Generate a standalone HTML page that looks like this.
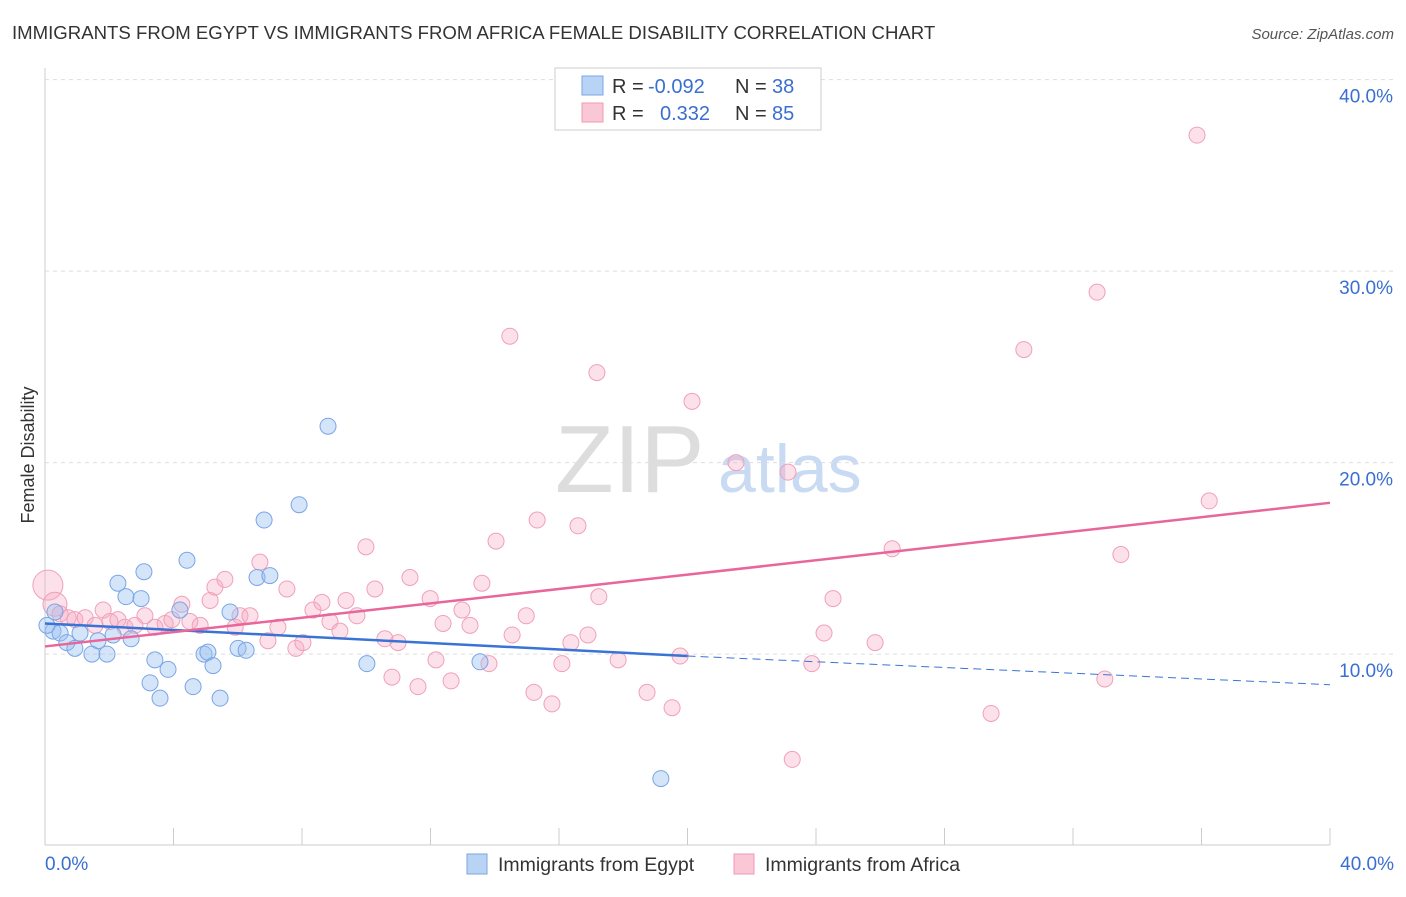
<!DOCTYPE html>
<html><head><meta charset="utf-8"><style>
body{margin:0;background:#fff;font-family:"Liberation Sans",sans-serif;}
svg text{font-family:"Liberation Sans",sans-serif;}
</style></head><body>
<svg id="c" width="1406" height="892" xmlns="http://www.w3.org/2000/svg">
<text x="12" y="39" font-size="18.6" fill="#333">IMMIGRANTS FROM EGYPT VS IMMIGRANTS FROM AFRICA FEMALE DISABILITY CORRELATION CHART</text>
<text x="1394" y="39" font-size="15" fill="#555" text-anchor="end" font-style="italic">Source: ZipAtlas.com</text>
<text x="34" y="455" font-size="18" fill="#333" text-anchor="middle" transform="rotate(-90 34 455)">Female Disability</text>
<text x="555" y="492" font-size="96" fill="#ddd" font-family="Liberation Serif">ZIP</text>
<text x="718" y="492" font-size="68" fill="#c9daf3">atlas</text>
<g id="grid"></g><g id="pts"></g><g id="lines"></g>
<g>
<rect x="555" y="68" width="266" height="62" fill="#fff" stroke="#ccc"/>
<rect x="582" y="76" width="21" height="19" fill="#b9d3f5" stroke="#7aa5e6"/>
<rect x="582" y="103" width="21" height="19" fill="#fac7d6" stroke="#f09ab4"/>
<text x="612" y="93" font-size="20" fill="#333">R =</text><text x="648" y="93" font-size="20" fill="#3a6fd0">-0.092</text>
<text x="735" y="93" font-size="20" fill="#333">N =</text><text x="772" y="93" font-size="20" fill="#3a6fd0">38</text>
<text x="612" y="120" font-size="20" fill="#333">R =</text><text x="660" y="120" font-size="20" fill="#3a6fd0">0.332</text>
<text x="735" y="120" font-size="20" fill="#333">N =</text><text x="772" y="120" font-size="20" fill="#3a6fd0">85</text>
</g>
<g>
<rect x="467" y="854" width="20" height="20" fill="#b9d3f5" stroke="#7aa5e6"/>
<text x="498" y="871" font-size="19.5" fill="#333">Immigrants from Egypt</text>
<rect x="734" y="854" width="20" height="20" fill="#fac7d6" stroke="#f09ab4"/>
<text x="765" y="871" font-size="19.5" fill="#333">Immigrants from Africa</text>
</g>
</svg>
<script>
const yTicks=[10,20,30,40];
const xTickLabels=["0.0%","40.0%"];
const egyptX=[0.31,0.25,0.47,0.68,0.93,1.09,1.46,1.65,1.93,2.12,2.27,2.52,2.68,2.99,3.08,3.27,3.42,3.58,3.83,4.20,4.42,4.61,4.95,5.07,5.23,5.45,5.76,6.01,6.26,6.60,6.82,7.00,7.91,8.81,10.02,13.54,19.17,0.06];
const egyptY=[12.2,11.2,11.1,10.6,10.3,11.1,10.0,10.7,10.0,11.0,13.7,13.0,10.8,12.9,14.3,8.5,9.7,7.7,9.2,12.3,14.9,8.3,10.0,10.1,9.4,7.7,12.2,10.3,10.2,14.0,17.0,14.1,17.8,21.9,9.5,9.6,3.5,11.5];
const africaX=[0.09,0.31,0.47,0.72,0.93,1.25,1.56,1.81,2.02,2.27,2.49,2.80,3.11,3.42,3.74,3.95,4.26,4.51,4.83,5.14,5.29,5.60,5.92,6.07,6.38,6.69,6.94,7.25,7.53,7.81,8.03,8.34,8.62,8.87,9.18,9.37,9.71,9.99,10.27,10.58,10.80,10.99,11.36,11.61,11.99,12.17,12.39,12.64,12.98,13.23,13.60,13.82,14.04,14.47,14.54,14.98,15.22,15.32,15.78,16.09,16.37,16.59,16.90,17.18,17.24,17.84,18.74,19.52,19.77,20.14,21.51,23.13,23.26,23.87,24.25,24.53,25.84,26.37,29.45,30.47,32.75,32.99,33.49,35.86,36.24];
const africaY=[13.6,12.6,12.1,11.9,11.8,11.9,11.5,12.3,11.7,11.8,11.4,11.5,12.0,11.4,11.6,11.8,12.6,11.7,11.5,12.8,13.5,13.9,11.4,12.0,12.0,14.8,10.7,11.4,13.4,10.3,10.6,12.3,12.7,11.7,11.2,12.8,12.0,15.6,13.4,10.8,8.8,10.6,14.0,8.3,12.9,9.7,11.6,8.6,12.3,11.5,13.7,9.5,15.9,26.6,11.0,12.0,8.0,17.0,7.4,9.5,10.6,16.7,11.0,24.7,13.0,9.7,8.0,7.2,9.9,23.2,20.0,19.5,4.5,9.5,11.1,12.9,10.6,15.5,6.9,25.9,28.9,8.7,15.2,37.1,18.0];
const trend={egypt:[11.6,9.9,8.4],africa:[10.4,17.9]};
const X=v=>45+v*32.125, Y=v=>845.6-v*19.15;
const NS="http://www.w3.org/2000/svg";
function mk(p,t,a){const e=document.createElementNS(NS,t);for(const k in a)e.setAttribute(k,a[k]);document.getElementById(p).appendChild(e);return e;}
mk('grid','line',{x1:45,y1:68,x2:45,y2:845,stroke:'#ccc'});
mk('grid','line',{x1:45,y1:845,x2:1330,y2:845,stroke:'#ccc'});
for(const t of yTicks){
 const l=mk('grid','line',{x1:45,y1:Y(t),x2:1394,y2:Y(t),stroke:'#ddd','stroke-dasharray':'4 4'});
 
 
 const tx=mk('grid','text',{x:1393,y:Y(t)+23,'font-size':19,fill:'#3a6fd0','text-anchor':'end'});
 tx.textContent=t.toFixed(1)+'%';
 
 
}
for(let i=0;i<=10;i++){
 const l=mk('grid','line',{x1:X(i*4),y1:828,x2:X(i*4),y2:845,stroke:'#ccc'});
 
 
}
[[0,'start',45],[1,'end',1394]].forEach(([i,a,x])=>{const t=mk('grid','text',{x:x,y:870,'font-size':19,fill:'#3a6fd0','text-anchor':a});t.textContent=xTickLabels[i];
 
 });
africaX.forEach((v,i)=>{const c=mk('pts','circle',{cx:X(v),cy:Y(africaY[i]),r:i==0?15:(i==1?12:8),fill:'rgba(246,170,195,0.35)',stroke:'#f0a0b8','stroke-width':1});
 
 });
egyptX.forEach((v,i)=>{const c=mk('pts','circle',{cx:X(v),cy:Y(egyptY[i]),r:8,fill:'rgba(150,190,240,0.4)',stroke:'#7aa5e6','stroke-width':1});
 
 });
let l=mk('lines','line',{x1:X(0),y1:Y(trend.egypt[0]),x2:X(20),y2:Y(trend.egypt[1]),stroke:'#3a73d6','stroke-width':2.5});


l=mk('lines','line',{x1:X(20),y1:Y(trend.egypt[1]),x2:X(40),y2:Y(trend.egypt[2]),stroke:'#3a73d6','stroke-width':1,'stroke-dasharray':'8 5'});


l=mk('lines','line',{x1:X(0),y1:Y(trend.africa[0]),x2:X(40),y2:Y(trend.africa[1]),stroke:'#e8669a','stroke-width':2.5});


</script>
</body></html>
